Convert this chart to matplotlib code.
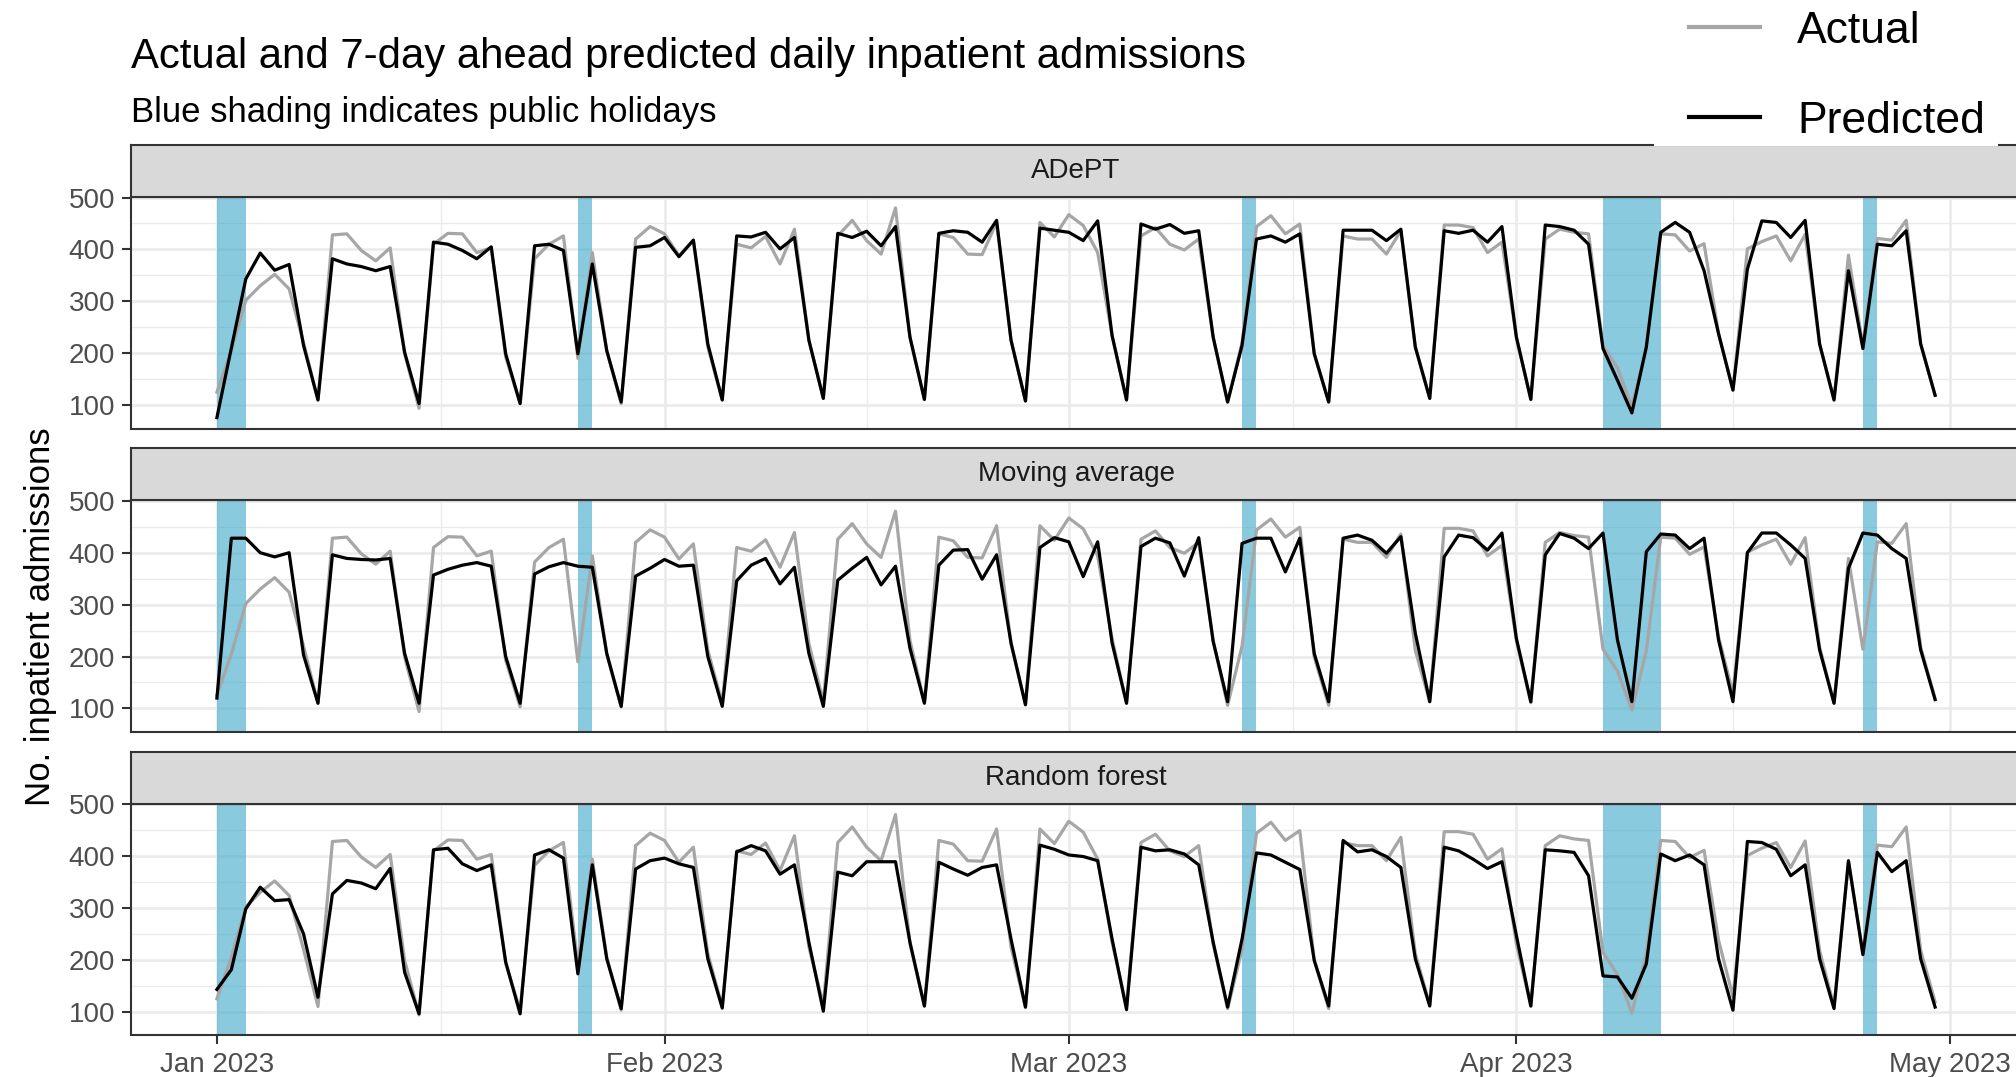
import numpy as np
import pandas as pd
import matplotlib
matplotlib.use('Agg')
import matplotlib.pyplot as plt
import matplotlib.dates as mdates
from matplotlib.patches import Rectangle
from matplotlib.lines import Line2D

plt.rcParams['font.family'] = ['Liberation Sans', 'DejaVu Sans']

# ---------------- data ----------------
start_date = '2023-01-01'

actual = [125, 205, 302, 330, 352, 324, 220, 110,
          428, 430, 398, 378, 403, 199, 94,
          410, 431, 430, 394, 403, 193, 103,
          382, 410, 426, 190, 394, 205, 103,
          420, 444, 430, 388, 417, 212, 110,
          410, 403, 425, 372, 439, 225, 113,
          426, 456, 417, 391, 480, 231, 111,
          430, 423, 391, 390, 452, 225, 108,
          452, 424, 467, 446, 394, 234, 110,
          426, 442, 410, 399, 420, 231, 106,
          220, 444, 465, 430, 449, 199, 106,
          426, 420, 420, 391, 436, 212, 113,
          447, 447, 442, 394, 414, 231, 111,
          420, 439, 433, 430, 214, 172, 97,
          211, 430, 428, 397, 411, 238, 129,
          401, 415, 426, 378, 429, 218, 110,
          389, 214, 421, 418, 456, 218, 119]

adept = [76, 210, 343, 393, 360, 371, 215, 110,
         382, 372, 367, 359, 367, 202, 103,
         414, 410, 398, 382, 405, 199, 103,
         407, 410, 398, 199, 372, 205, 106,
         404, 407, 423, 386, 418, 218, 110,
         426, 424, 433, 401, 423, 225, 113,
         431, 423, 435, 407, 444, 231, 111,
         431, 436, 433, 414, 456, 225, 108,
         441, 437, 433, 417, 455, 234, 110,
         449, 439, 448, 431, 436, 231, 106,
         215, 420, 426, 414, 430, 199, 106,
         437, 437, 437, 417, 439, 212, 113,
         436, 431, 437, 414, 444, 231, 111,
         447, 444, 437, 410, 209, 148, 85,
         212, 433, 452, 433, 359, 238, 129,
         362, 455, 452, 423, 456, 218, 110,
         359, 209, 410, 407, 436, 218, 119]

moving_average = [120, 428, 428, 400, 392, 400, 203, 110,
                  396, 389, 387, 386, 389, 206, 110,
                  357, 368, 376, 381, 374, 200, 110,
                  359, 373, 381, 374, 372, 206, 104,
                  355, 370, 387, 374, 376, 200, 104,
                  346, 376, 389, 340, 372, 206, 104,
                  347, 370, 391, 338, 374, 216, 110,
                  376, 405, 406, 349, 396, 226, 107,
                  410, 429, 421, 354, 421, 226, 110,
                  412, 428, 419, 355, 429, 229, 113,
                  418, 428, 428, 363, 428, 206, 113,
                  428, 434, 424, 399, 431, 245, 113,
                  392, 434, 429, 405, 438, 235, 113,
                  396, 437, 428, 408, 438, 232, 113,
                  402, 436, 434, 408, 428, 232, 113,
                  400, 438, 438, 415, 389, 213, 110,
                  370, 438, 434, 408, 389, 213, 117]

random_forest = [143, 181, 298, 340, 314, 316, 250, 128,
                 327, 353, 348, 337, 376, 176, 96,
                 412, 415, 385, 372, 383, 196, 96,
                 402, 412, 396, 173, 383, 202, 106,
                 375, 391, 396, 385, 378, 202, 107,
                 408, 420, 410, 365, 383, 234, 101,
                 369, 362, 389, 389, 389, 234, 111,
                 388, 375, 363, 378, 383, 240, 109,
                 421, 413, 402, 399, 391, 240, 104,
                 417, 410, 412, 404, 383, 234, 109,
                 240, 406, 402, 388, 374, 199, 111,
                 430, 408, 412, 399, 378, 202, 111,
                 417, 410, 394, 376, 389, 247, 111,
                 412, 410, 407, 362, 169, 167, 126,
                 192, 404, 391, 402, 383, 202, 103,
                 428, 426, 413, 362, 383, 202, 106,
                 391, 210, 407, 370, 391, 202, 109]

models = ['ADePT', 'Moving average', 'Random forest']
predictions = [adept, moving_average, random_forest]

holidays = ['2023-01-01', '2023-01-02', '2023-01-26', '2023-03-13',
            '2023-04-07', '2023-04-08', '2023-04-09', '2023-04-10',
            '2023-04-25']

month_ticks = ['2023-01-01', '2023-02-01', '2023-03-01', '2023-04-01', '2023-05-01']
month_labels = ['Jan 2023', 'Feb 2023', 'Mar 2023', 'Apr 2023', 'May 2023']
y_ticks = [100, 200, 300, 400, 500]

title = 'Actual and 7-day ahead predicted daily inpatient admissions'
subtitle = 'Blue shading indicates public holidays'
ylabel = 'No. inpatient admissions'
legend_labels = ['Actual', 'Predicted']

# ---------------- style ----------------
W, H = 2016, 1077
fig = plt.figure(figsize=(W / 100, H / 100), dpi=100)
fig.patch.set_facecolor('white')


def fx(px):
    return px / W


def fy(py):
    return 1 - py / H


col_actual = '#A6A6A6'
col_pred = '#000000'
col_band = '#3CA8CB'
col_grid = '#EBEBEB'
col_border = '#333333'

dates = pd.date_range(start_date, periods=len(actual), freq='D')
x = mdates.date2num(dates)
pad = 0.05 * (x[-1] - x[0])
xlim = (x[0] - pad, x[-1] + pad)

major_x = mdates.date2num(pd.to_datetime(month_ticks))
minor_x = (major_x[:-1] + major_x[1:]) / 2
major_y = np.array(y_ticks, dtype=float)
minor_y = (major_y[:-1] + major_y[1:]) / 2
hol_x = mdates.date2num(pd.to_datetime(holidays))

panel_left = 131.0
panel_right = 2021.0
panel_tops = [197.0, 500.3, 803.6]
panel_h = 231.5
strip_h = 52.0

for i, (name, pred) in enumerate(zip(models, predictions)):
    top = panel_tops[i]
    ax = fig.add_axes([fx(panel_left), fy(top + panel_h),
                       (panel_right - panel_left) / W, panel_h / H])
    ax.set_xlim(*xlim)
    ax.set_ylim(55, 501)
    ax.set_xticks(major_x)
    ax.set_xticks(minor_x, minor=True)
    ax.set_yticks(major_y)
    ax.set_yticks(minor_y, minor=True)
    ax.set_axisbelow(True)
    ax.grid(which='major', color=col_grid, lw=1.9)
    ax.grid(which='minor', color=col_grid, lw=1.0)
    for h in hol_x:
        ax.axvspan(h, h + 1, color=col_band, alpha=0.6, lw=0, zorder=1.5)
    ax.plot(x, actual, color=col_actual, lw=2.3, zorder=2,
            solid_joinstyle='round')
    ax.plot(x, pred, color=col_pred, lw=2.3, zorder=3,
            solid_joinstyle='round')
    for s in ax.spines.values():
        s.set_color(col_border)
        s.set_linewidth(1.5)
        s.set_zorder(4)
    ax.tick_params(which='minor', length=0)
    ax.tick_params(axis='y', which='major', length=6.5, width=1.5,
                   color=col_border, labelcolor='#4D4D4D', labelsize=20, pad=5)
    ax.set_yticklabels([str(v) for v in y_ticks])
    if i < 2:
        ax.tick_params(axis='x', which='major', length=0, labelbottom=False)
    else:
        ax.set_xticklabels(month_labels)
        ax.tick_params(axis='x', which='major', length=6.5, width=1.5,
                       color=col_border, labelcolor='#4D4D4D', labelsize=20, pad=6)

    sax = fig.add_axes([fx(panel_left), fy(top),
                        (panel_right - panel_left) / W, strip_h / H])
    sax.set_facecolor('#D9D9D9')
    sax.set_xticks([])
    sax.set_yticks([])
    for s in sax.spines.values():
        s.set_color(col_border)
        s.set_linewidth(1.5)
    sax.text(0.5, 0.5, name, transform=sax.transAxes, ha='center', va='center',
             fontsize=20, color='#1A1A1A')

fig.text(fx(131), fy(68), title, fontsize=30.2, ha='left', va='baseline', color='black')
fig.text(fx(131), fy(122), subtitle, fontsize=25, ha='left', va='baseline', color='black')
fig.text(fx(41), fy(617), ylabel, fontsize=25, rotation=90, ha='center', va='center',
         color='black')

# legend with white background box
fig.patches.append(Rectangle((fx(1654), fy(146)), (1998 - 1654) / W, 146 / H + 0.01,
                             transform=fig.transFigure, facecolor='white',
                             edgecolor='none', zorder=4))
handles = [Line2D([], [], color=col_actual, lw=3.0),
           Line2D([], [], color=col_pred, lw=3.0)]
leg = fig.legend(handles, legend_labels, loc='upper left',
                 bbox_to_anchor=(fx(1689), fy(11)), frameon=False, fontsize=32,
                 handlelength=1.6, handletextpad=0.83, labelspacing=1.1,
                 borderpad=0, borderaxespad=0)
leg.set_zorder(6)

fig.savefig('out.png', dpi=100, facecolor='white')
